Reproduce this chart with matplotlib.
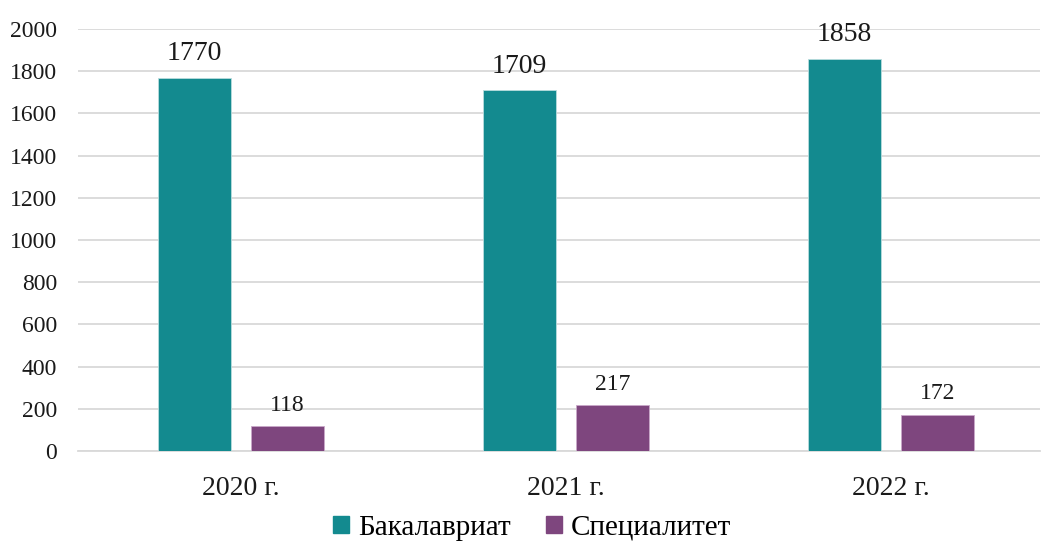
import numpy as np
import matplotlib.pyplot as plt
from matplotlib.patches import Patch

years = ['2020 г.', '2021 г.', '2022 г.']
bachelor = [1770, 1709, 1858]
specialist = [118, 217, 172]
series_names = ['Бакалавриат', 'Специалитет']

plt.rcParams['font.family'] = ['Liberation Serif', 'DejaVu Serif']

teal = '#138A8F'
purple = '#7E467E'

fig = plt.figure(figsize=(10.43, 5.45), dpi=100)
ax = fig.add_axes([78 / 1043, 1 - 451 / 545, (1040 - 78) / 1043, (451 - 29) / 545])

x = np.arange(len(years))
w = 0.225
off = 0.143
b1 = ax.bar(x - off, bachelor, w, color=teal, edgecolor='#b9dcdd', linewidth=0.6, zorder=3)
b2 = ax.bar(x + off, specialist, w, color=purple, edgecolor='#c9a9c9', linewidth=0.6, zorder=3)

for rect, v in zip(b1, bachelor):
    ax.text(rect.get_x() + rect.get_width() / 2, v + 55, str(v),
            ha='center', va='bottom', fontsize=20, color='#1a1a1a')
for rect, v in zip(b2, specialist):
    ax.text(rect.get_x() + rect.get_width() / 2, v + 50, str(v),
            ha='center', va='bottom', fontsize=17, color='#1a1a1a')

ax.set_ylim(0, 2000)
ax.set_xlim(-0.5, 2.458)
ax.set_yticks(range(0, 2001, 200))
ax.set_xticks(x)
ax.set_xticklabels(years, fontsize=20)
ax.tick_params(axis='y', labelsize=17, length=0, pad=15, colors='#1a1a1a')
ax.tick_params(axis='x', length=0, pad=18, colors='#1a1a1a')
ax.grid(axis='y', color='#d9d9d9', linewidth=1.3, zorder=0)
for s in ['top', 'right', 'left']:
    ax.spines[s].set_visible(False)
ax.spines['bottom'].set_color('#d9d9d9')
ax.spines['bottom'].set_linewidth(1.3)

handles = [Patch(color=teal), Patch(color=purple)]
fig.legend(handles, series_names, loc='center', bbox_to_anchor=(532 / 1043, 1 - 528 / 545),
           ncol=2, frameon=False, fontsize=21, handlelength=0.55, handleheight=0.55,
           handletextpad=0.3, columnspacing=1.2, borderpad=0)

fig.savefig('out.png', dpi=100)
